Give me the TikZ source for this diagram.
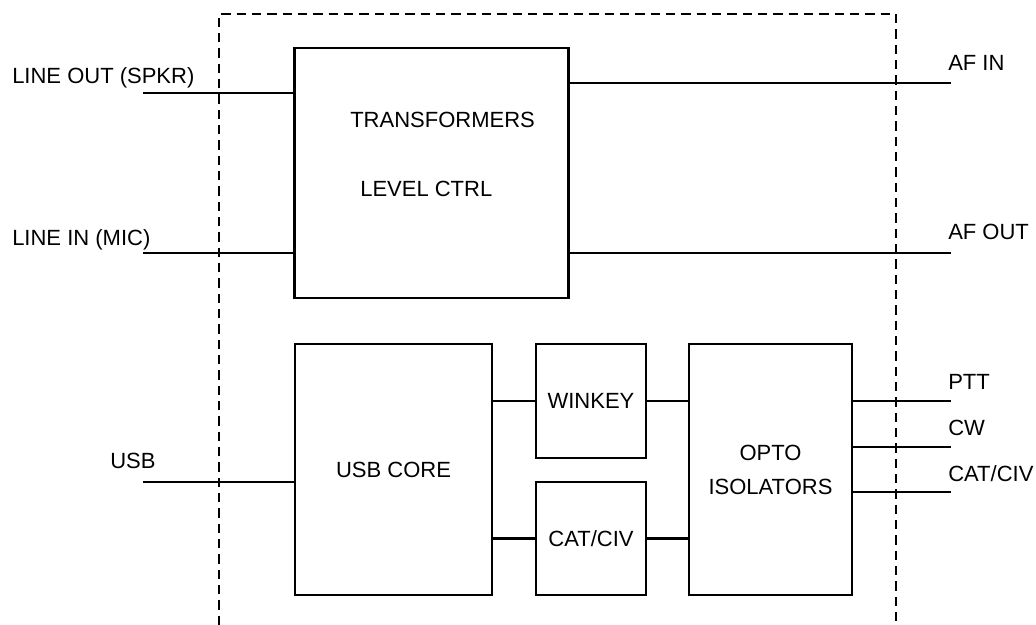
\documentclass[tikz,border=0pt]{standalone}
\usepackage{fontspec}
\setmainfont{Liberation Sans}
\usetikzlibrary{positioning,calc}

\begin{document}
\begin{tikzpicture}[x=0.75pt,y=-0.75pt,
    blk/.style={draw,line width=2.2pt,inner sep=0pt,
      font=\fontsize{16.5}{25.5}\selectfont,align=center},
    lbl/.style={anchor=base west,inner sep=0pt,font=\fontsize{16.5}{20}\selectfont},
    wire/.style={line width=2.2pt},
    fence/.style={line width=2.2pt,dash pattern=on 7pt off 4.5pt}]
    \useasboundingbox (0,0) rectangle (1036,625);
    % dashed enclosure, open at the bottom
    \draw[fence] (219,625) |- (896,14) -- (896,625);
    % blocks
    \node[blk,minimum width=205pt,minimum height=187.5pt]
      (xfmr) at (431.5,173) {};
    \node[lbl] (xfmrtxt) at (350,127) {TRANSFORMERS};
    \node[lbl] (lvltxt) at (360,196) {LEVEL CTRL};
    \node[blk,minimum width=147.75pt,minimum height=188.25pt]
      (core) at (393.5,469.5) {USB CORE};
    \node[blk,minimum width=82.5pt,minimum height=85.5pt]
      (winkey) at (591,401) {WINKEY};
    \node[blk,minimum width=82.5pt,minimum height=84.75pt]
      (cat) at (591,538.5) {CAT/CIV};
    \node[blk,minimum width=122.25pt,minimum height=188.25pt]
      (opto) at (770.5,469.5) {OPTO\\ISOLATORS};
    % free ends of the wires
    \coordinate (lout) at (143,93);
    \coordinate (lin) at (143,253);
    \coordinate (usb) at (143,482);
    \coordinate (afin) at (951,83);
    \coordinate (afout) at (951,253);
    \coordinate (ptt) at (951,401);
    \coordinate (cw) at (951,447);
    \coordinate (catciv) at (951,492);
    % wires
    \draw[wire] (lout) -- (lout -| xfmr.west);
    \draw[wire] (lin) -- (lin -| xfmr.west);
    \draw[wire] (afin -| xfmr.east) -- (afin);
    \draw[wire] (afout -| xfmr.east) -- (afout);
    \draw[wire] (usb) -- (usb -| core.west);
    \draw[wire] (winkey.west -| core.east) -- (winkey.west);
    \draw[wire] (cat.west -| core.east) -- (cat.west);
    \draw[wire] (winkey.east) -- (winkey.east -| opto.west);
    \draw[wire] (cat.east) -- (cat.east -| opto.west);
    \draw[wire] (ptt -| opto.east) -- (ptt);
    \draw[wire] (cw -| opto.east) -- (cw);
    \draw[wire] (catciv -| opto.east) -- (catciv);
    % labels
    \node[lbl] (loutlbl) at (12,83) {LINE OUT (SPKR)};
    \node[lbl] (linlbl) at (12,245) {LINE IN (MIC)};
    \node[lbl] (usblbl) at (110,468) {USB};
    \node[lbl] (afinlbl) at (948,70) {AF IN};
    \node[lbl] (afoutlbl) at (948,239) {AF OUT};
    \node[lbl] (pttlbl) at (948,389) {PTT};
    \node[lbl] (cwlbl) at (948,435) {CW};
    \node[lbl] (catlbl) at (948,481) {CAT/CIV};
\end{tikzpicture}
\end{document}
